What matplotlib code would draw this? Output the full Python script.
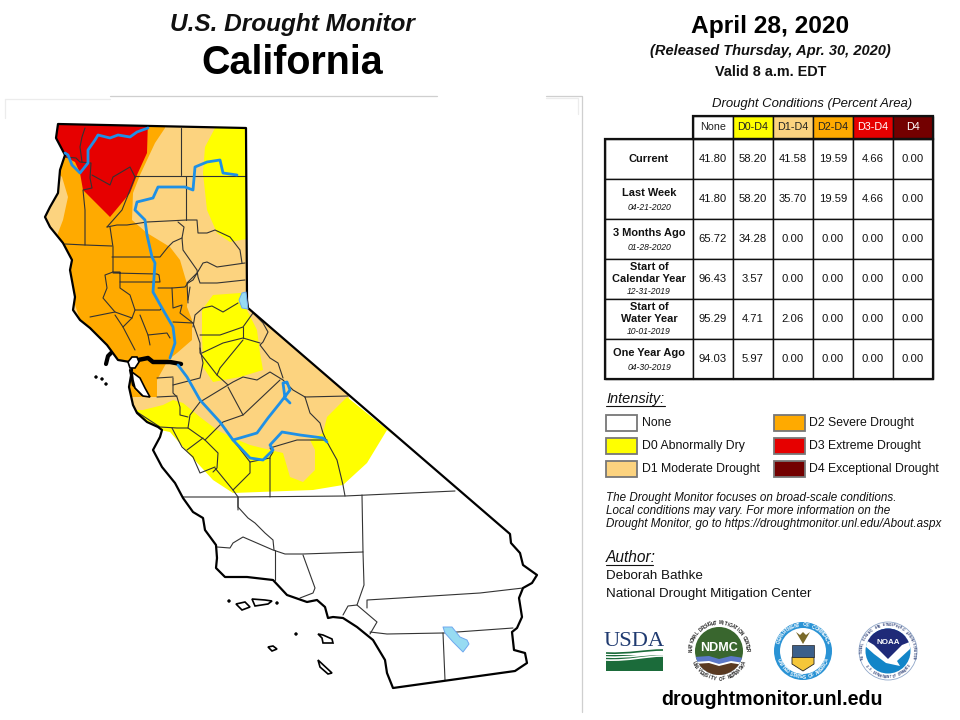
import numpy as np
import matplotlib
matplotlib.use("Agg")
import matplotlib.pyplot as plt
from matplotlib.patches import Polygon, Rectangle, Circle, PathPatch
from matplotlib.path import Path

plt.rcParams['font.family'] = ['Liberation Sans', 'DejaVu Sans']

# ---------- data: table ----------
COLUMNS = ["None", "D0-D4", "D1-D4", "D2-D4", "D3-D4", "D4"]
ROW_TITLES = [["Current"], ["Last Week"], ["3 Months Ago"],
              ["Start of", "Calendar Year"], ["Start of", "Water Year"], ["One Year Ago"]]
ROW_DATES = ["", "04-21-2020", "01-28-2020", "12-31-2019", "10-01-2019", "04-30-2019"]
CURRENT = ["41.80", "58.20", "41.58", "19.59", "4.66", "0.00"]
LAST_WEEK = ["41.80", "58.20", "35.70", "19.59", "4.66", "0.00"]
MONTHS_AGO = ["65.72", "34.28", "0.00", "0.00", "0.00", "0.00"]
CAL_YEAR = ["96.43", "3.57", "0.00", "0.00", "0.00", "0.00"]
WATER_YEAR = ["95.29", "4.71", "2.06", "0.00", "0.00", "0.00"]
ONE_YEAR = ["94.03", "5.97", "0.00", "0.00", "0.00", "0.00"]
ROWS = [CURRENT, LAST_WEEK, MONTHS_AGO, CAL_YEAR, WATER_YEAR, ONE_YEAR]

# ---------- data: legend ----------
WHITE, D0, D1, D2, D3, D4 = "#FFFFFF", "#FFFF00", "#FCD37F", "#FFAA00", "#E60000", "#730000"
HEAD_COLORS = [WHITE, D0, D1, D2, D3, D4]
HEAD_TEXT = ["#222222", "#222222", "#222222", "#222222", "#FFFFFF", "#FFFFFF"]
LEGEND_LEFT = [("None", WHITE), ("D0 Abnormally Dry", D0), ("D1 Moderate Drought", D1)]
LEGEND_RIGHT = [("D2 Severe Drought", D2), ("D3 Extreme Drought", D3), ("D4 Exceptional Drought", D4)]

# ---------- data: map geometry ----------
STATE = [(58,124),(246,128),(247,300),(248,308),(510,534),(511,543),(520,553),(523,565),(537,575),
         (532,583),(523,588),(519,598),(522,617),(517,628),(512,632),(514,650),(525,653),(527,663),
         (515,671),(393,688),(387,673),(385,660),(373,640),(357,627),(343,618),(333,617),(328,618),
         (325,607),(317,600),(307,602),(287,595),(273,580),(247,577),(225,577),(216,568),(217,558),
         (216,545),(205,530),(203,518),(193,512),(183,498),(175,483),(162,467),(153,450),(160,437),
         (162,430),(158,427),(147,422),(137,413),(133,405),(129,387),(132,370),(130,362),(118,360),
         (107,345),(90,328),(80,320),(73,310),(75,297),(70,270),(72,260),(63,243),(50,227),(45,217),
         (50,207),(58,193),(60,170),(65,155),(56,138)]
YELLOW_NORTH = [(215,128),(205,147),(203,173),(207,210),(217,233),(230,242),(252,238),(252,122),(215,122)]
YELLOW_CENTRAL = [(240,293),(213,295),(202,310),(202,333),(203,367),(213,382),(240,377),(263,370),
                  (260,353),(257,330),(247,310),(250,295)]
YELLOW_SOUTH = [(125,405),(133,410),(143,410),(163,405),(173,400),(183,403),(200,417),(217,430),(233,438),
                (250,445),(270,450),(283,453),(290,477),(303,482),(315,470),(315,450),(310,440),(323,433),
                (327,417),(347,397),(400,440),(387,430),(367,463),(343,485),(313,490),(233,493),(213,480),
                (190,455),(170,432),(160,430),(125,420)]
D1_AREA = [(40,110),(260,110),(260,305),(350,395),(335,440),(320,485),(290,485),(200,430),(135,410),(125,400),(40,300)]
D2_AREA = [(165,122),(165,128),(155,143),(140,175),(133,193),(132,220),(147,233),(170,247),(180,260),(185,277),
           (188,287),(187,307),(192,320),(192,340),(177,353),(168,360),(157,380),(157,397),(120,397),(80,320),
           (55,243),(58,233),(63,220),(68,197),(62,177),(50,165),(50,122)]
D3_AREA = [(50,120),(148,120),(147,153),(137,175),(130,193),(110,217),(83,190),(80,173),(75,162),(65,157),(50,150)]

COUNTIES = [
    [(85,128),(82,137),(80,147),(82,162)],
    [(65,157),(76,158),(80,162),(91,163),(90,178),(92,188),(83,190),(85,210),(85,245)],
    [(92,175),(110,185),(113,177),(130,167),(135,177)],
    [(135,177),(130,190),(122,210),(107,227)],
    [(181,128),(181,175)],
    [(135,176),(246,176)],
    [(186,176),(186,220)],
    [(107,227),(117,225),(127,225),(147,222),(187,220),(197,220),(198,233),(207,233),(215,230),(230,237),(240,250),(242,263)],
    [(178,222),(184,227),(182,238),(173,242),(168,247),(160,257),(112,257)],
    [(110,227),(113,247),(113,272)],
    [(65,244),(85,245),(112,246)],
    [(113,272),(105,275),(107,288),(103,298),(115,312),(132,318),(135,310)],
    [(113,272),(120,272),(120,282),(160,282),(159,275),(157,274),(113,273)],
    [(120,282),(120,288),(130,295),(135,310),(160,310),(162,308)],
    [(140,315),(148,335),(150,345)],
    [(132,318),(123,327),(135,350)],
    [(115,312),(100,315),(90,317)],
    [(115,315),(123,327)],
    [(148,335),(167,333),(170,338)],
    [(172,288),(173,308),(182,305),(180,313),(193,323)],
    [(158,288),(172,288),(185,287),(188,283),(193,280),(203,263),(207,262),(217,267),(245,263)],
    [(182,238),(183,250),(197,270),(198,277),(200,283),(217,283),(245,280)],
    [(197,273),(187,283),(188,303)],
    [(173,322),(193,323),(200,343),(200,353),(217,375)],
    [(190,287),(188,300)],
    [(193,327),(195,315),(203,308),(212,306),(223,312),(238,303)],
    [(200,335),(220,335),(243,327),(253,313)],
    [(243,327),(243,338)],
    [(202,353),(223,343),(243,338),(260,343)],
    [(253,313),(263,323),(268,332),(263,342),(260,345),(270,358),(278,363),(283,378)],
    [(243,340),(220,368),(217,375),(228,385),(233,382),(243,377),(257,380),(270,372),(283,380),(293,390),(305,397)],
    [(228,385),(200,402),(190,415),(188,428),(205,440),(223,422),(243,415),(280,380)],
    [(228,387),(243,415)],
    [(205,440),(218,453),(217,468),(213,472)],
    [(173,378),(173,393),(177,397),(180,407),(180,415),(188,417)],
    [(173,385),(200,378),(203,363),(200,348)],
    [(157,378),(173,377)],
    [(157,397),(177,396)],
    [(137,412),(160,427),(177,428),(188,428)],
    [(172,428),(182,447),(193,457),(200,473),(215,467)],
    [(187,450),(203,438)],
    [(215,468),(233,490),(250,473),(250,462),(233,440)],
    [(233,490),(238,497),(238,510)],
    [(270,497),(270,457),(273,452),(270,448),(280,445),(297,440),(327,440)],
    [(250,462),(270,458)],
    [(305,397),(348,396)],
    [(305,397),(310,413),(320,423),(323,433),(327,442),(337,460),(343,485),(345,496)],
    [(183,497),(238,497),(345,496),(455,491)],
    [(238,497),(238,507),(248,518),(255,523),(265,533),(273,540),(274,550)],
    [(362,495),(363,552),(303,554),(285,554),(273,550),(243,537),(233,543),(230,548),(217,547)],
    [(275,550),(275,580)],
    [(303,555),(315,588),(313,593),(300,598)],
    [(363,552),(364,585),(357,605)],
    [(343,615),(348,606),(357,605),(377,622),(370,634)],
    [(367,608),(367,600),(400,598),(480,593),(523,588)],
    [(370,632),(387,634),(443,633),(513,628)],
    [(443,633),(445,680)],
]
KLAMATH = [(148,128),(137,132),(130,137),(118,135),(110,138),(98,135),(95,140),(88,150),(88,163),(80,173),(72,165),(68,155),(65,153)]
SACRAMENTO = [(237,175),(223,173),(220,160),(207,162),(195,167),(193,190),(185,187),(173,187),(158,187),(153,198),
              (137,202),(135,210),(145,220),(147,235),(152,257),(155,263),(153,292),(162,308),(173,327),(175,343),(170,358)]
SAN_JOAQUIN = [(178,365),(187,377),(200,400),(220,422),(233,440),(250,458),(263,460),(273,450),(270,445),(282,432),(300,435),(323,438),(327,442)]
KINGS = [(233,440),(257,433),(268,418),(280,403),(290,390),(287,382),(283,383),(285,398),(290,403)]
TAHOE = [(239,300),(242,293),(246,292),(248,309),(242,308)]
SALTON = [(443,627),(452,627),(460,637),(467,640),(469,644),(463,652),(453,642),(445,633)]
DELTA = [(133,361),(148,358),(153,362),(170,362),(181,364)]
MARIN_BLOB = [(106,364),(108,356),(111,353)]
PENINSULA = [(130,370),(133,385),(142,395)]
SAN_PABLO = [(128,362),(132,357),(137,357),(139,362),(135,368),(130,368)]
SF_BAY = [(132,372),(140,378),(145,388),(150,397),(143,396),(135,388),(133,380)]
ISLANDS_OPEN = [[(236,604),(245,602),(250,607),(242,610)],
                [(252,599),(265,600),(272,601),(268,604),(255,606)],
                [(268,647),(273,646),(277,649),(272,651)],
                [(318,634),(323,635),(332,639),(333,643),(323,643),(322,638)],
                [(318,660),(332,673),(328,674),(320,667)]]
ISLANDS_DOT = [(229,601),(277,603),(296,634),(96,377),(102,379),(106,384)]
FRAME_DARK = [[(110,96),(437,96)], [(546,96),(582,96),(582,712)]]
FRAME_LIGHT = [[(5,99),(110,99)], [(5,99),(5,118)], [(546,98),(578,98),(578,114)]]

# ---------- figure in picture coordinates ----------
fig = plt.figure(figsize=(9.6, 7.2), dpi=100)
ax = fig.add_axes([0, 0, 1, 1])
ax.set_xlim(0, 960)
ax.set_ylim(720, 0)
ax.axis("off")

def px(p):
    return p * 0.72

def label(x, y, s, size, weight="normal", style="normal", ha="center", color="#111111", **kw):
    return ax.text(x, y, s, fontsize=px(size), fontweight=weight, fontstyle=style, ha=ha, va="center", color=color, **kw)

def line(pts, **kw):
    a = np.array(pts)
    return ax.plot(a[:, 0], a[:, 1], solid_capstyle="round", solid_joinstyle="round", **kw)[0]

# titles
label(292.5, 24, "U.S. Drought Monitor", 24.4, "bold", "italic")
label(292, 63, "California", 39.5, "bold", color="black")
label(770, 26, "April 28, 2020", 24.5, "bold", color="black")
label(770, 50.5, "(Released Thursday, Apr. 30, 2020)", 14.6, "bold", "italic")
label(770.5, 72, "Valid 8 a.m. EDT", 14.4, "bold")

# map
for seg in FRAME_DARK:
    line(seg, color="#cfcfcf", lw=0.9)
for seg in FRAME_LIGHT:
    line(seg, color="#ececec", lw=0.9)
state = Polygon(STATE, closed=True, fc="white", ec="none", zorder=1)
ax.add_patch(state)
for poly, col in [(D1_AREA, D1), (YELLOW_NORTH, D0), (YELLOW_CENTRAL, D0), (YELLOW_SOUTH, D0), (D2_AREA, D2), (D3_AREA, D3)]:
    p = Polygon(poly, closed=True, fc=col, ec="none", zorder=2)
    ax.add_patch(p)
    p.set_clip_path(state)
for c in COUNTIES:
    line(c, color="#333333", lw=0.8, zorder=3)
for riv in (KLAMATH, SACRAMENTO, SAN_JOAQUIN, KINGS):
    line(riv, color="#1E90E6", lw=2.0, zorder=5)
for lake in (TAHOE, SALTON):
    ax.add_patch(Polygon(lake, closed=True, fc="#97DBF2", ec="#6FA8EE", lw=0.7, zorder=6, joinstyle="round"))
ax.add_patch(Polygon(STATE, closed=True, fc="none", ec="black", lw=1.6, zorder=4, joinstyle="round"))
line(DELTA, color="black", lw=3.2, zorder=4)
line(MARIN_BLOB, color="black", lw=3.0, zorder=4)
line(PENINSULA, color="black", lw=1.6, zorder=4)
for bay in (SAN_PABLO, SF_BAY):
    ax.add_patch(Polygon(bay, closed=True, fc="white", ec="black", lw=1.2, zorder=4))
for isl in ISLANDS_OPEN:
    ax.add_patch(Polygon(isl, closed=True, fc="white", ec="black", lw=1.2, zorder=4))
for x, y in ISLANDS_DOT:
    ax.add_patch(Circle((x, y), 1.3, fc="black", ec="black", lw=0.5, zorder=4))

# table
COL_X = [693 + 40 * i for i in range(7)]
ROW_Y = [139 + 40 * i for i in range(7)]
TABLE_L, HEAD_T = 605, 116
label(812, 104, "Drought Conditions (Percent Area)", 13.1, style="italic")
for i, (name, fc, tc) in enumerate(zip(COLUMNS, HEAD_COLORS, HEAD_TEXT)):
    ax.add_patch(Rectangle((COL_X[i], HEAD_T), 40, ROW_Y[0] - HEAD_T, fc=fc, ec="#111111", lw=1))
    label(COL_X[i] + 20, 127.5, name, 10.8, color=tc)
for r, (title, date, vals) in enumerate(zip(ROW_TITLES, ROW_DATES, ROWS)):
    y0 = ROW_Y[r]
    ax.add_patch(Rectangle((TABLE_L, y0), COL_X[0] - TABLE_L, 40, fc="white", ec="#111111", lw=1))
    for i, v in enumerate(vals):
        ax.add_patch(Rectangle((COL_X[i], y0), 40, 40, fc="white", ec="#111111", lw=1))
        label(COL_X[i] + 20, y0 + 20, v, 11.2)
    if not date:
        label(649, y0 + 20, title[0], 11, "bold")
    elif len(title) == 1:
        label(649, y0 + 14, title[0], 11, "bold")
        label(649, y0 + 28.5, date, 8.7, style="italic")
    else:
        label(649, y0 + 8, title[0], 11, "bold")
        label(649, y0 + 20.5, title[1], 11, "bold")
        label(649, y0 + 32.5, date, 8.7, style="italic")
ax.add_patch(Rectangle((TABLE_L, ROW_Y[0]), COL_X[-1] - TABLE_L, ROW_Y[-1] - ROW_Y[0], fc="none", ec="#111111", lw=1.6, zorder=3))
ax.add_patch(Rectangle((COL_X[0], HEAD_T), COL_X[-1] - COL_X[0], ROW_Y[0] - HEAD_T, fc="none", ec="#111111", lw=1.6, zorder=3))

# legend
label(606, 399, "Intensity:", 14.5, style="italic", ha="left")
line([(606, 406), (665, 406)], color="#111111", lw=0.8)
for col_x, txt_x, entries in [(606, 642, LEGEND_LEFT), (773.5, 809, LEGEND_RIGHT)]:
    for (name, colour), y in zip(entries, [415, 438, 461]):
        ax.add_patch(Rectangle((col_x, y), 31, 15.5, fc=colour, ec="#777777", lw=1.3))
        label(txt_x, y + 8, name, 12.25, ha="left")

# notes
NOTE = ["The Drought Monitor focuses on broad-scale conditions.",
        "Local conditions may vary. For more information on the",
        "Drought Monitor, go to https://droughtmonitor.unl.edu/About.aspx"]
for s, y in zip(NOTE, [498, 511, 524]):
    label(606, y, s, 11.6, style="italic", ha="left")
label(606, 557, "Author:", 15.5, style="italic", ha="left")
line([(606, 565), (653, 565)], color="#111111", lw=0.8)
label(606, 576, "Deborah Bathke", 13.4, ha="left")
label(606, 594, "National Drought Mitigation Center", 13.4, ha="left")

# logos
def arc_text(cx, cy, r, s, start, end, size, color="#222222", bottom=False):
    for ch, a in zip(s, np.linspace(start, end, len(s))):
        t = np.deg2rad(a)
        rot = a - 270 if bottom else a - 90
        ax.text(cx + r * np.cos(t), cy - r * np.sin(t), ch, fontsize=px(size), fontweight="bold",
                ha="center", va="center", rotation=rot, rotation_mode="anchor", color=color)

# USDA
ax.text(634.5, 641, "USDA", fontsize=px(22.5), family="Liberation Serif", ha="center", va="center", color="#1F3A70")
ax.add_patch(Rectangle((606, 655), 57, 16, fc="#1B6B3A", ec="none"))
for y0, y1, c in [(653, 650, "#1B6B3A"), (657, 654, "white"), (660, 656, "white")]:
    ax.add_patch(PathPatch(Path([(606, y0), (630, y0 + 1), (645, y1), (663, y1)],
                                [Path.MOVETO, Path.CURVE4, Path.CURVE4, Path.CURVE4]),
                           fc="none", ec=c, lw=1.2))
# NDMC
NX, NY = 719, 651
disc = Circle((NX, NY), 24, fc="#39662E", ec="none")
ax.add_patch(disc)
for poly, c in [([(NX - 25, NY + 6), (NX - 10, NY + 5), (NX, NY + 8), (NX + 12, NY + 5), (NX + 25, NY + 7), (NX + 25, NY + 26), (NX - 25, NY + 26)], "#5B78C8"),
                ([(NX - 25, NY + 11), (NX - 10, NY + 10), (NX, NY + 13), (NX + 12, NY + 10), (NX + 25, NY + 12), (NX + 25, NY + 26), (NX - 25, NY + 26)], "white"),
                ([(NX - 25, NY + 13), (NX - 10, NY + 12), (NX, NY + 15), (NX + 12, NY + 12), (NX + 25, NY + 14), (NX + 25, NY + 26), (NX - 25, NY + 26)], "#5A3A22")]:
    q = Polygon(poly, closed=True, fc=c, ec="none")
    ax.add_patch(q)
    q.set_clip_path(disc)
label(NX, NY - 3, "NDMC", 12.5, "bold", color="white")
arc_text(NX, NY, 28, "NATIONAL DROUGHT MITIGATION CENTER", 178, 2, 4.6)
arc_text(NX, NY, 28, "UNIVERSITY OF NEBRASKA", 205, 335, 4.6, bottom=True)
# Commerce
CX, CY = 803, 651
ax.add_patch(Circle((CX, CY), 29, fc="#2A93D5", ec="none"))
ax.add_patch(Circle((CX, CY), 23, fc="white", ec="none"))
ax.add_patch(Polygon([(CX - 11, CY + 6), (CX + 11, CY + 6), (CX + 11, CY + 13), (CX, CY + 20), (CX - 11, CY + 13)], closed=True, fc="#F5C73A", ec="#222222", lw=0.6))
ax.add_patch(Rectangle((CX - 11, CY - 6), 22, 12, fc="#3B5F8A", ec="#222222", lw=0.5))
ax.add_patch(Polygon([(CX, CY - 7), (CX - 7, CY - 19), (CX - 3, CY - 16), (CX, CY - 19), (CX + 3, CY - 16), (CX + 7, CY - 19)], closed=True, fc="#7A6A2A", ec="none"))
arc_text(CX, CY, 26, "DEPARTMENT OF COMMERCE", 160, 20, 4.8, color="white")
arc_text(CX, CY, 26, "UNITED STATES OF AMERICA", 200, 340, 4.8, color="white", bottom=True)
# NOAA
OX, OY = 888, 651
ax.add_patch(Circle((OX, OY), 29, fc="white", ec="#8FA6C8", lw=0.6))
ball = Circle((OX, OY), 22.5, fc="#1285C8", ec="none")
ax.add_patch(ball)
white_bird = Polygon([(OX - 24, OY - 14), (OX + 24, OY - 14), (OX + 22, OY - 2), (OX + 9, OY + 10), (OX + 12, OY + 15),
                      (OX - 2, OY + 12), (OX - 14, OY + 3), (OX - 24, OY - 6)], closed=True, fc="white", ec="none")
ax.add_patch(white_bird)
white_bird.set_clip_path(ball)
navy = Polygon([(OX - 24, OY - 24), (OX + 24, OY - 24), (OX + 24, OY - 10), (OX + 14, OY - 6), (OX, OY + 8), (OX - 14, OY - 6), (OX - 24, OY - 12)],
               closed=True, fc="#1F2A78", ec="none")
ax.add_patch(navy)
navy.set_clip_path(ball)
label(OX, OY - 9, "NOAA", 8, "bold", color="white")
arc_text(OX, OY, 26, "NATIONAL OCEANIC AND ATMOSPHERIC ADMINISTRATION", 195, -15, 2.9, color="#33457A")
arc_text(OX, OY, 26, "U.S. DEPARTMENT OF COMMERCE", 215, 325, 2.9, color="#33457A", bottom=True)

label(772.5, 699.5, "droughtmonitor.unl.edu", 19.7, "bold", color="black")

fig.savefig("out.png", dpi=100)
